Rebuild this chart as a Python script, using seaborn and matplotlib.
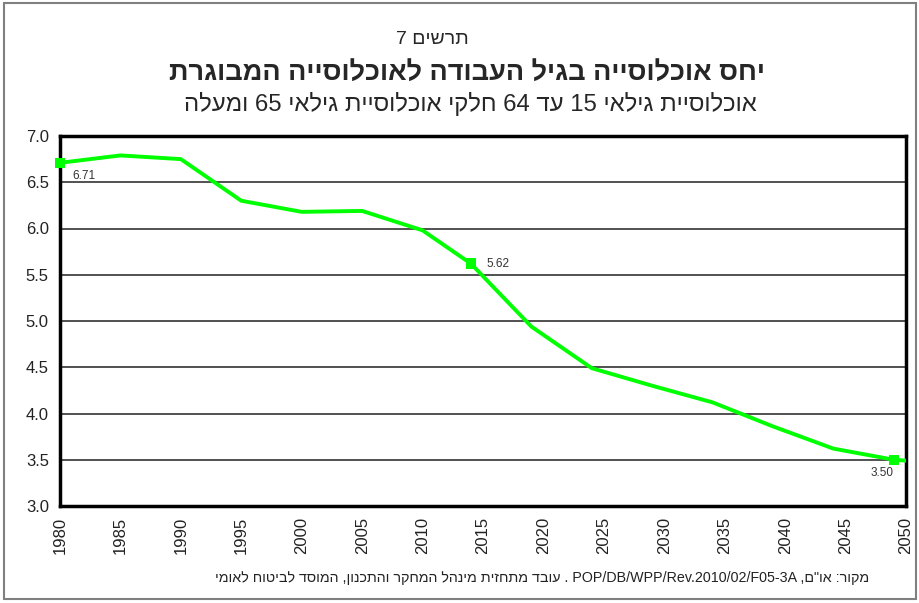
import re
import numpy as np
import pandas as pd
import seaborn as sns
import matplotlib.pyplot as plt
from matplotlib.patches import Rectangle

# Data
years = [1980, 1985, 1990, 1995, 2000, 2005, 2010, 2014, 2019, 2024, 2029, 2034, 2039, 2044, 2049, 2050]
ratio = [6.71, 6.79, 6.75, 6.30, 6.18, 6.19, 5.98, 5.62, 4.94, 4.49, 4.30, 4.12, 3.86, 3.62, 3.50, 3.49]
label_years = [1980, 2014, 2049]
label_values = [6.71, 5.62, 3.50]
x_ticks = list(range(1980, 2051, 5))
y_ticks = [3.0, 3.5, 4.0, 4.5, 5.0, 5.5, 6.0, 6.5, 7.0]

title_top = "תרשים 7"
title_main = "יחס אוכלוסייה בגיל העבודה לאוכלוסייה המבוגרת"
title_sub = "אוכלוסיית גילאי 15 עד 64 חלקי אוכלוסיית גילאי 65 ומעלה"
source = 'מקור: או"ם, POP/DB/WPP/Rev.2010/02/F05-3A . עובד מתחזית מינהל המחקר והתכנון, המוסד לביטוח לאומי'


def rtl(s):
    # matplotlib lays glyphs out left to right, so put Hebrew in visual order
    parts = re.split(r"([0-9A-Za-z./\-]+)", s)
    out = []
    for p in reversed(parts):
        if re.fullmatch(r"[0-9A-Za-z./\-]+", p):
            out.append(p)
        else:
            out.append(p[::-1])
    return "".join(out)


df = pd.DataFrame({"year": years, "ratio": ratio})
lab = pd.DataFrame({"year": label_years, "ratio": label_values})

sns.set_style("white")
plt.rcParams["font.family"] = ["Liberation Sans", "DejaVu Sans"]

fig = plt.figure(figsize=(9.2, 6.03), dpi=100)
ax = fig.add_axes([60 / 920, 1 - 506 / 603, 846 / 920, 370 / 603])

sns.lineplot(data=df, x="year", y="ratio", color="#00ff00", linewidth=2.8, ax=ax, zorder=3)
sns.scatterplot(data=lab, x="year", y="ratio", color="#00ff00", marker="s", s=55,
                edgecolor="none", ax=ax, zorder=4, clip_on=False)

ax.set_xlim(1980, 2050)
ax.set_ylim(3.0, 7.0)
ax.set_xticks(x_ticks)
ax.set_yticks(y_ticks)
ax.set_yticklabels([f"{v:.1f}" for v in y_ticks], fontsize=12, color="#222222")
ax.set_xticklabels([str(v) for v in x_ticks], fontsize=12, rotation=90, color="#222222")
ax.set_xlabel("")
ax.set_ylabel("")
ax.tick_params(axis="both", direction="out", length=5, width=1, color="#555555", pad=3)
ax.yaxis.grid(True, color="#333333", linewidth=1.2)
ax.xaxis.grid(False)
for sp in ax.spines.values():
    sp.set_visible(True)
    sp.set_color("black")
    sp.set_linewidth(2.5)

# point labels
offsets = [(9, -9.5, "left"), (11, 0, "left"), (0, -9.5, "right")]
for (yr, val), (dx, dy, ha) in zip(zip(label_years, label_values), offsets):
    ax.annotate(f"{val:.2f}", (yr, val), xytext=(dx, dy), textcoords="offset points",
                ha=ha, va="center", fontsize=8.5, color="#333333")

fig.text(432 / 920, 1 - 39 / 603, rtl(title_top), ha="center", va="center", fontsize=14)
fig.text(467 / 920, 1 - 73 / 603, rtl(title_main), ha="center", va="center", fontsize=19.5,
         fontweight="bold")
fig.text(470 / 920, 1 - 104 / 603, rtl(title_sub), ha="center", va="center", fontsize=17.2)

fig.text(869 / 920, 1 - 578 / 603, rtl(source), ha="right", va="center", fontsize=10.3,
         color="#222222")

fig.patches.append(Rectangle((4 / 920, 1 - 599 / 603), 912 / 920, 596 / 603,
                             transform=fig.transFigure, fill=False,
                             edgecolor="#808080", linewidth=1.5))

fig.savefig("out.png", dpi=100)
